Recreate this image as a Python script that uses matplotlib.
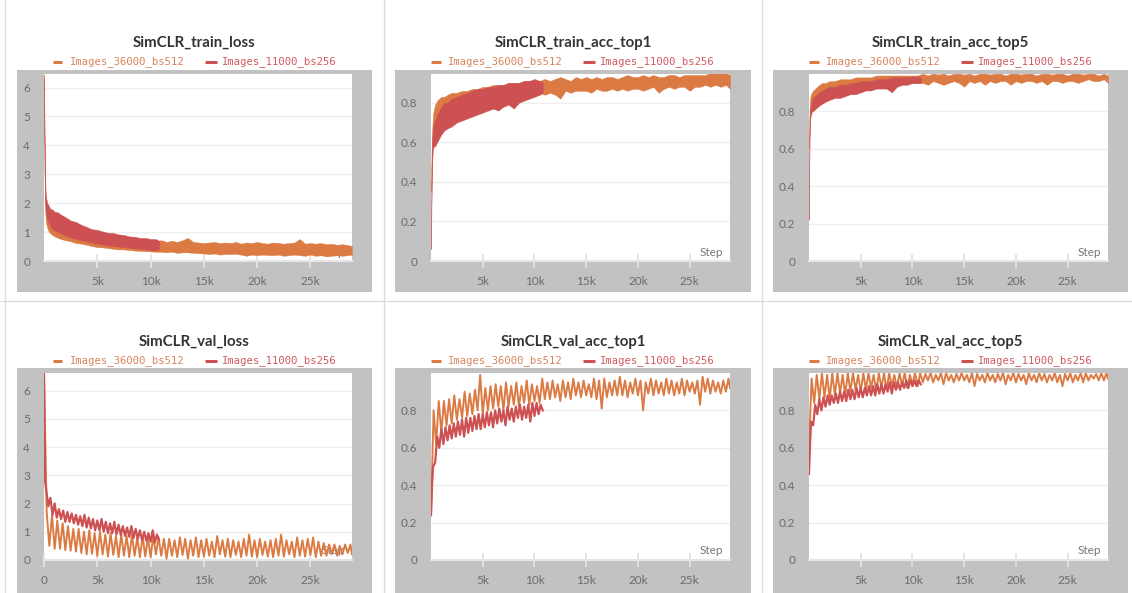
import numpy as np
import matplotlib
matplotlib.use("Agg")
import matplotlib.pyplot as plt
from matplotlib.patches import Rectangle
from matplotlib.lines import Line2D

# ---------------- data ----------------
RUN_NAMES = ["Images_36000_bs512", "Images_11000_bs256"]
TITLES = ["SimCLR_train_loss", "SimCLR_train_acc_top1", "SimCLR_train_acc_top5",
          "SimCLR_val_loss", "SimCLR_val_acc_top1", "SimCLR_val_acc_top5"]
X_TICKS = [5000, 10000, 15000, 20000, 25000]
X_TICK_LABELS = ["5k", "10k", "15k", "20k", "25k"]
Y_TICKS_LOSS = [0, 1, 2, 3, 4, 5, 6]
Y_TICKS_ACC = [0, 0.2, 0.4, 0.6, 0.8]
Y_TICK_LABELS_ACC = ["0", "0.2", "0.4", "0.6", "0.8"]

# knot steps for envelope (min / max) of noisy training curves
STEPS_EARLY = [0, 50, 100, 150, 200, 300, 400, 600, 800, 1000, 1300, 1600, 2000, 2500]
STEPS_36K = STEPS_EARLY + list(range(3000, 28600, 500)) + [28900]
STEPS_11K = STEPS_EARLY + list(range(3000, 10600, 500)) + [10800]
# validation evaluation steps
VAL_STEPS_36K = list(range(0, 28751, 250)) + [28900]
VAL_STEPS_11K = [0, 100] + list(range(200, 10801, 200))

# --- train loss ---
train_loss_36k_hi = [6.45, 4.0, 2.6, 2.1, 1.95, 1.7, 1.65, 1.45, 1.4, 1.3, 1.25, 1.15, 1.12, 1.05,
                     1.00, 0.95, 0.92, 0.90, 0.86, 0.84, 0.80, 0.80, 0.78, 0.76, 0.74, 0.72, 0.72, 0.70, 0.70, 0.68,
                     0.72, 0.66, 0.70, 0.66, 0.72, 0.80, 0.66, 0.64, 0.62, 0.64, 0.66, 0.62, 0.64, 0.62, 0.66, 0.60,
                     0.64, 0.62, 0.66, 0.62, 0.60, 0.64, 0.62, 0.60, 0.62, 0.64, 0.76, 0.60, 0.62, 0.60, 0.62, 0.58,
                     0.60, 0.56, 0.58, 0.55, 0.52]
train_loss_36k_lo = [6.45, 3.0, 1.9, 1.5, 1.3, 1.15, 1.05, 0.95, 0.9, 0.85, 0.8, 0.76, 0.72, 0.68,
                     0.62, 0.60, 0.56, 0.52, 0.48, 0.47, 0.45, 0.42, 0.40, 0.40, 0.38, 0.36, 0.35, 0.34, 0.33, 0.32,
                     0.32, 0.30, 0.32, 0.28, 0.30, 0.30, 0.28, 0.27, 0.26, 0.24, 0.26, 0.22, 0.24, 0.24, 0.25, 0.22,
                     0.18, 0.22, 0.20, 0.22, 0.21, 0.20, 0.22, 0.18, 0.20, 0.22, 0.20, 0.18, 0.22, 0.18, 0.20, 0.16,
                     0.18, 0.20, 0.18, 0.20, 0.22]
train_loss_11k_hi = [6.3, 4.5, 3.0, 2.4, 2.2, 2.0, 1.95, 1.8, 1.78, 1.7, 1.68, 1.6, 1.52, 1.4,
                     1.35, 1.25, 1.18, 1.10, 1.08, 1.02, 0.98, 0.97, 0.92, 0.90, 0.85, 0.84, 0.80, 0.80, 0.76, 0.76,
                     0.70]
train_loss_11k_lo = [6.3, 3.2, 2.2, 1.8, 1.6, 1.45, 1.35, 1.2, 1.1, 1.05, 1.0, 0.95, 0.88, 0.82,
                     0.76, 0.72, 0.68, 0.64, 0.60, 0.57, 0.54, 0.52, 0.50, 0.48, 0.46, 0.44, 0.42, 0.40, 0.38, 0.37,
                     0.40]

# --- train acc top1 ---
train_top1_36k_hi = [0.35, 0.55, 0.65, 0.70, 0.74, 0.77, 0.79, 0.81, 0.82, 0.83, 0.83, 0.84, 0.85, 0.85,
                     0.86, 0.86, 0.87, 0.87, 0.88, 0.88, 0.89, 0.89, 0.89, 0.90, 0.90, 0.90, 0.91, 0.91, 0.91, 0.91,
                     0.92, 0.91, 0.92, 0.93, 0.92, 0.91, 0.93, 0.92, 0.93, 0.92, 0.93, 0.92, 0.93, 0.93, 0.92, 0.93,
                     0.94, 0.93, 0.93, 0.94, 0.93, 0.94, 0.93, 0.93, 0.94, 0.94, 0.93, 0.94, 0.94, 0.94, 0.94, 0.94,
                     0.95, 0.95, 0.95, 0.95, 0.94]
train_top1_36k_lo = [0.35, 0.40, 0.50, 0.58, 0.62, 0.66, 0.68, 0.70, 0.72, 0.73, 0.74, 0.75, 0.76, 0.77,
                     0.78, 0.79, 0.80, 0.80, 0.81, 0.81, 0.82, 0.82, 0.83, 0.83, 0.83, 0.84, 0.84, 0.84, 0.85, 0.85,
                     0.84, 0.85, 0.84, 0.82, 0.86, 0.85, 0.86, 0.86, 0.86, 0.85, 0.87, 0.86, 0.86, 0.87, 0.86, 0.87,
                     0.86, 0.87, 0.87, 0.86, 0.87, 0.88, 0.85, 0.87, 0.88, 0.87, 0.88, 0.88, 0.86, 0.88, 0.88, 0.89,
                     0.88, 0.89, 0.88, 0.89, 0.87]
train_top1_11k_hi = [0.06, 0.45, 0.60, 0.64, 0.67, 0.70, 0.71, 0.74, 0.76, 0.78, 0.80, 0.80, 0.82, 0.83,
                     0.84, 0.85, 0.86, 0.87, 0.87, 0.88, 0.88, 0.89, 0.89, 0.90, 0.90, 0.90, 0.91, 0.91, 0.92, 0.91,
                     0.90]
train_top1_11k_lo = [0.06, 0.30, 0.48, 0.54, 0.57, 0.58, 0.58, 0.60, 0.62, 0.64, 0.66, 0.67, 0.68, 0.70,
                     0.71, 0.72, 0.73, 0.74, 0.75, 0.76, 0.77, 0.76, 0.78, 0.79, 0.77, 0.80, 0.81, 0.82, 0.83, 0.84,
                     0.85]

# --- train acc top5 ---
train_top5_36k_hi = [0.60, 0.80, 0.86, 0.88, 0.89, 0.90, 0.91, 0.92, 0.93, 0.94, 0.95, 0.95, 0.96, 0.96,
                     0.97, 0.97, 0.97, 0.98, 0.98, 0.98, 0.98, 0.99, 0.99, 0.99, 0.99, 0.99, 0.99, 0.99, 0.99, 0.99,
                     1.0, 0.99, 1.0, 0.995, 1.0, 0.99, 1.0, 1.0, 0.995, 1.0, 0.99, 1.0, 1.0, 0.995, 1.0, 1.0,
                     0.99, 1.0, 1.0, 0.995, 1.0, 1.0, 0.99, 1.0, 1.0, 0.995, 1.0, 1.0, 0.99, 1.0, 1.0, 0.995,
                     1.0, 1.0, 0.99, 1.0, 0.99]
train_top5_36k_lo = [0.60, 0.70, 0.78, 0.82, 0.84, 0.85, 0.86, 0.87, 0.88, 0.89, 0.90, 0.90, 0.91, 0.92,
                     0.92, 0.93, 0.93, 0.93, 0.94, 0.94, 0.94, 0.94, 0.95, 0.95, 0.95, 0.95, 0.95, 0.95, 0.95, 0.95,
                     0.95, 0.94, 0.96, 0.95, 0.94, 0.95, 0.96, 0.95, 0.93, 0.96, 0.95, 0.96, 0.94, 0.96, 0.95, 0.96,
                     0.96, 0.94, 0.96, 0.95, 0.96, 0.96, 0.95, 0.96, 0.94, 0.96, 0.96, 0.95, 0.96, 0.96, 0.95, 0.96,
                     0.97, 0.96, 0.96, 0.97, 0.95]
train_top5_11k_hi = [0.22, 0.75, 0.80, 0.82, 0.84, 0.86, 0.87, 0.88, 0.89, 0.90, 0.91, 0.92, 0.93, 0.93,
                     0.94, 0.94, 0.95, 0.95, 0.96, 0.96, 0.96, 0.97, 0.97, 0.97, 0.98, 0.98, 0.98, 0.98, 0.985, 0.985,
                     0.98]
train_top5_11k_lo = [0.22, 0.65, 0.74, 0.77, 0.78, 0.80, 0.80, 0.81, 0.82, 0.83, 0.84, 0.85, 0.86, 0.87,
                     0.87, 0.88, 0.89, 0.89, 0.90, 0.91, 0.91, 0.92, 0.92, 0.92, 0.90, 0.93, 0.94, 0.94, 0.95, 0.95,
                     0.95]

# --- val loss ---
val_loss_36k_start, val_loss_36k_end = 6.6, 0.2
val_loss_36k_peaks = [1.7, 1.6, 1.4, 1.3, 1.2, 1.1, 1.1, 1.0, 1.05, 0.95, 1.0, 0.9, 0.95, 0.85, 0.9,
                      0.85, 0.9, 0.8, 0.85, 0.8, 0.85, 0.8, 0.75, 0.75, 0.7, 0.8, 0.75, 0.7, 0.8, 0.7,
                      0.75, 0.65, 0.85, 0.7, 0.75, 0.7, 0.65, 0.75, 0.9, 0.7, 0.75, 0.65, 0.7, 0.75, 0.9,
                      0.7, 0.65, 0.8, 0.7, 0.75, 0.8, 0.65, 0.6, 0.55, 0.55, 0.5, 0.55, 0.55]
val_loss_36k_troughs = [0.5, 0.4, 0.4, 0.35, 0.33, 0.3, 0.25, 0.2, 0.22, 0.15, 0.2, 0.12, 0.18, 0.1, 0.15,
                        0.1, 0.15, 0.1, 0.12, 0.1, 0.2, 0.15, 0.05, 0.15, 0.1, 0.18, 0.05, 0.15, 0.1, 0.12,
                        0.15, 0.1, 0.2, 0.12, 0.1, 0.18, 0.1, 0.15, 0.12, 0.1, 0.18, 0.12, 0.1, 0.15, 0.12,
                        0.2, 0.1, 0.15, 0.12, 0.18, 0.1, 0.15, 0.15, 0.2, 0.15, 0.2, 0.25]
val_loss_11k_start = [6.6, 2.8]
val_loss_11k_peaks = [2.5, 2.2, 2.0, 1.8, 1.75, 1.7, 1.65, 1.6, 1.55, 1.6, 1.5, 1.45, 1.4, 1.45,
                      1.35, 1.3, 1.35, 1.25, 1.2, 1.15, 1.2, 1.1, 1.05, 1.0, 0.95, 1.05, 0.9]
val_loss_11k_troughs = [1.9, 1.6, 1.5, 1.45, 1.35, 1.35, 1.3, 1.25, 1.2, 1.15, 1.12, 1.05, 1.05, 1.0,
                        0.95, 0.95, 0.9, 0.88, 0.85, 0.82, 0.78, 0.75, 0.7, 0.68, 0.65, 0.62, 0.7]

# --- val acc top1 ---
val_top1_36k_start, val_top1_36k_end = 0.24, 0.92
val_top1_36k_peaks = [0.80, 0.85, 0.85, 0.86, 0.88, 0.86, 0.90, 0.89, 0.91, 0.99, 0.92, 0.93, 0.94, 0.93, 0.95,
                      0.93, 0.95, 0.93, 0.96, 0.94, 0.93, 0.97, 0.95, 0.96, 0.94, 0.96, 0.95, 0.97, 0.95, 0.96,
                      0.94, 0.97, 0.96, 0.97, 0.95, 0.96, 0.98, 0.96, 0.95, 0.97, 0.96, 0.95, 0.97, 0.96, 0.95,
                      0.97, 0.96, 0.95, 0.97, 0.96, 0.95, 0.96, 0.98, 0.97, 0.96, 0.95, 0.96, 0.97]
val_top1_36k_troughs = [0.62, 0.68, 0.72, 0.73, 0.75, 0.76, 0.77, 0.78, 0.80, 0.78, 0.80, 0.81, 0.82, 0.80, 0.82,
                        0.83, 0.82, 0.84, 0.83, 0.85, 0.84, 0.86, 0.86, 0.87, 0.85, 0.87, 0.86, 0.88, 0.87, 0.88,
                        0.87, 0.86, 0.81, 0.87, 0.88, 0.88, 0.88, 0.87, 0.89, 0.88, 0.80, 0.89, 0.88, 0.89, 0.88,
                        0.89, 0.88, 0.89, 0.88, 0.90, 0.89, 0.83, 0.90, 0.89, 0.90, 0.89, 0.90]
val_top1_11k_start = [0.24, 0.40]
val_top1_11k_peaks = [0.50, 0.66, 0.70, 0.71, 0.72, 0.73, 0.74, 0.75, 0.76, 0.76, 0.77, 0.78, 0.78, 0.79,
                      0.79, 0.80, 0.81, 0.80, 0.82, 0.81, 0.82, 0.83, 0.82, 0.83, 0.84, 0.84, 0.83]
val_top1_11k_troughs = [0.52, 0.60, 0.62, 0.64, 0.65, 0.66, 0.67, 0.66, 0.68, 0.69, 0.70, 0.70, 0.71, 0.72,
                        0.71, 0.73, 0.74, 0.72, 0.75, 0.74, 0.76, 0.75, 0.76, 0.74, 0.77, 0.78, 0.80]

# --- val acc top5 ---
val_top5_36k_start, val_top5_36k_end = 0.60, 0.97
val_top5_36k_peaks = [0.97, 0.99, 1.0, 0.99, 1.0, 1.0, 0.99, 1.0, 1.0, 0.99,
                      1.0, 1.0, 0.99, 1.0, 1.0, 1.0, 0.99, 1.0, 1.0, 0.99,
                      1.0, 1.0, 0.995, 1.0, 0.99, 1.0, 1.0, 0.99, 0.995, 1.0,
                      0.99, 1.0, 0.995, 0.99, 1.0, 0.99, 0.995, 1.0, 0.99, 1.0,
                      0.995, 0.99, 1.0, 0.99, 1.0, 0.995, 0.99, 1.0, 0.99, 0.995,
                      1.0, 0.99, 1.0, 1.0, 0.99, 0.995, 1.0, 1.0]
val_top5_36k_troughs = [0.84, 0.86, 0.87, 0.86, 0.88, 0.89, 0.88, 0.90, 0.91, 0.90, 0.91, 0.92, 0.90, 0.92, 0.91,
                        0.93, 0.92, 0.93, 0.92, 0.94, 0.93, 0.95, 0.96, 0.95, 0.96, 0.94, 0.96, 0.95, 0.96, 0.96,
                        0.95, 0.93, 0.96, 0.95, 0.96, 0.95, 0.96, 0.94, 0.96, 0.95, 0.96, 0.94, 0.96, 0.95, 0.96,
                        0.95, 0.96, 0.95, 0.93, 0.96, 0.95, 0.96, 0.95, 0.96, 0.97, 0.96, 0.96]
val_top5_11k_start = [0.46, 0.62]
val_top5_11k_peaks = [0.74, 0.83, 0.86, 0.87, 0.88, 0.88, 0.89, 0.90, 0.90, 0.91, 0.91, 0.92, 0.92, 0.92,
                      0.93, 0.93, 0.94, 0.94, 0.94, 0.95, 0.95, 0.95, 0.95, 0.96, 0.96, 0.96, 0.96]
val_top5_11k_troughs = [0.72, 0.78, 0.80, 0.82, 0.83, 0.84, 0.84, 0.85, 0.85, 0.86, 0.86, 0.87, 0.87, 0.88,
                        0.88, 0.88, 0.89, 0.89, 0.90, 0.89, 0.91, 0.91, 0.92, 0.92, 0.93, 0.93, 0.94]

Y_MAX = [6.47, 0.945, 0.998, 6.62, 1.0, 1.0]
X_MAX = 28900


def zigzag(start, peaks, troughs, end=None):
    vals = list(start) if isinstance(start, list) else [start]
    for i, p in enumerate(peaks):
        vals.append(p)
        if i < len(troughs):
            vals.append(troughs[i])
    if end is not None:
        vals.append(end)
    return vals


# ---------------- style ----------------
W, H = 1132, 593
ORANGE = "#dc7a44"
RED = "#cd5152"
ORANGE_TXT = "#d9845a"
RED_TXT = "#d2595e"
GRAY_BOX = "#c2c2c2"
SEP = "#dcdcdc"
TICK_COL = "#6b6b6b"

fig = plt.figure(figsize=(W / 100, H / 100), dpi=100)
fig.patch.set_facecolor("white")

cols_white = [(44, 352), (431, 730), (809, 1108)]
cols_gray = [(17, 372), (395, 751), (773, 1128)]
rows_white = [(74, 261), (373, 560)]
rows_gray = [(70, 292), (368, 593)]
title_y = [43, 342]
legend_y = [62, 361]


def fx(x):
    return x / W


def fy(y):
    return 1 - y / H


# separators
for x in [5, 383.5, 762]:
    fig.add_artist(Line2D([fx(x), fx(x)], [0, 1], color=SEP, lw=1.0))
fig.add_artist(Line2D([0, 1], [fy(300.5), fy(300.5)], color=SEP, lw=1.0))

panels = [
    dict(env36=(train_loss_36k_lo, train_loss_36k_hi), env11=(train_loss_11k_lo, train_loss_11k_hi)),
    dict(env36=(train_top1_36k_lo, train_top1_36k_hi), env11=(train_top1_11k_lo, train_top1_11k_hi)),
    dict(env36=(train_top5_36k_lo, train_top5_36k_hi), env11=(train_top5_11k_lo, train_top5_11k_hi)),
    dict(zz36=zigzag(val_loss_36k_start, val_loss_36k_peaks, val_loss_36k_troughs, val_loss_36k_end),
         zz11=zigzag(val_loss_11k_start, val_loss_11k_peaks, val_loss_11k_troughs)),
    dict(zz36=zigzag(val_top1_36k_start, val_top1_36k_peaks, val_top1_36k_troughs, val_top1_36k_end),
         zz11=zigzag(val_top1_11k_start, val_top1_11k_peaks, val_top1_11k_troughs)),
    dict(zz36=zigzag(val_top5_36k_start, val_top5_36k_peaks, val_top5_36k_troughs, val_top5_36k_end),
         zz11=zigzag(val_top5_11k_start, val_top5_11k_peaks, val_top5_11k_troughs)),
]

for idx, spec in enumerate(panels):
    r, c = divmod(idx, 3)
    gx0, gx1 = cols_gray[c]
    gy0, gy1 = rows_gray[r]
    fig.add_artist(Rectangle((fx(gx0), fy(gy1)), (gx1 - gx0) / W, (gy1 - gy0) / H,
                             transform=fig.transFigure, facecolor=GRAY_BOX, edgecolor="none", zorder=0))
    wx0, wx1 = cols_white[c]
    wy0, wy1 = rows_white[r]
    ax = fig.add_axes([fx(wx0), fy(wy1), (wx1 - wx0) / W, (wy1 - wy0) / H])
    ax.set_facecolor("white")
    ax.set_zorder(2)

    if "env36" in spec:
        lo, hi = spec["env36"]
        ax.fill_between(STEPS_36K, lo, hi, color=ORANGE, lw=0.3, edgecolor=ORANGE, zorder=3)
        lo, hi = spec["env11"]
        ax.fill_between(STEPS_11K, lo, hi, color=RED, lw=0.3, edgecolor=RED, zorder=4)
    else:
        ax.plot(VAL_STEPS_36K, spec["zz36"], color=ORANGE, lw=1.4, zorder=3)
        ax.plot(VAL_STEPS_11K, spec["zz11"], color=RED, lw=1.6, zorder=4)

    ax.set_xlim(0, X_MAX)
    ax.set_ylim(0, Y_MAX[idx])
    if idx in (0, 3):
        ax.set_yticks(Y_TICKS_LOSS)
        ax.set_yticklabels([str(v) for v in Y_TICKS_LOSS])
    else:
        ax.set_yticks(Y_TICKS_ACC)
        ax.set_yticklabels(Y_TICK_LABELS_ACC)
    if idx == 3:
        ax.set_xticks([0] + X_TICKS)
        ax.set_xticklabels(["0"] + X_TICK_LABELS)
    else:
        ax.set_xticks(X_TICKS)
        ax.set_xticklabels(X_TICK_LABELS)

    for s in ["top", "right", "left"]:
        ax.spines[s].set_visible(False)
    ax.spines["bottom"].set_color("#e6e6e6")
    ax.spines["bottom"].set_linewidth(1.5)
    ax.grid(axis="y", color="#eeeeee", lw=1.0, zorder=0)
    ax.set_axisbelow(True)
    ax.tick_params(axis="y", length=0, pad=10, labelsize=8.5, labelcolor=TICK_COL)
    ax.tick_params(axis="x", direction="inout", length=10, width=1.3, color="#e2e2e2",
                   pad=6, labelsize=8.5, labelcolor=TICK_COL)
    for lab in ax.get_xticklabels() + ax.get_yticklabels():
        lab.set_fontfamily("Lato")

    ax.text(1 - 7 / (wx1 - wx0), 9 / (wy1 - wy0), "Step", transform=ax.transAxes,
            ha="right", va="center", fontsize=8.5, color="#777777", family="Lato", zorder=1)

    # title and legend
    cx = (gx0 + gx1) / 2
    fig.text(fx(cx), fy(title_y[r]), TITLES[idx], ha="center", va="center",
             fontsize=10.8, fontweight="bold", family="Lato", color="#333333")
    ly = fy(legend_y[r])
    fig.add_artist(Line2D([fx(cx - 142), fx(cx - 132)], [ly, ly], color=ORANGE, lw=2.2,
                          solid_capstyle="butt"))
    fig.text(fx(cx - 125), ly, RUN_NAMES[0], ha="left", va="center", fontsize=7.6,
             family="DejaVu Sans Mono", color=ORANGE_TXT)
    fig.add_artist(Line2D([fx(cx + 10), fx(cx + 22)], [ly, ly], color=RED, lw=2.2,
                          solid_capstyle="butt"))
    fig.text(fx(cx + 27), ly, RUN_NAMES[1], ha="left", va="center", fontsize=7.6,
             family="DejaVu Sans Mono", color=RED_TXT)

fig.savefig("out.png", dpi=100, facecolor="white")
